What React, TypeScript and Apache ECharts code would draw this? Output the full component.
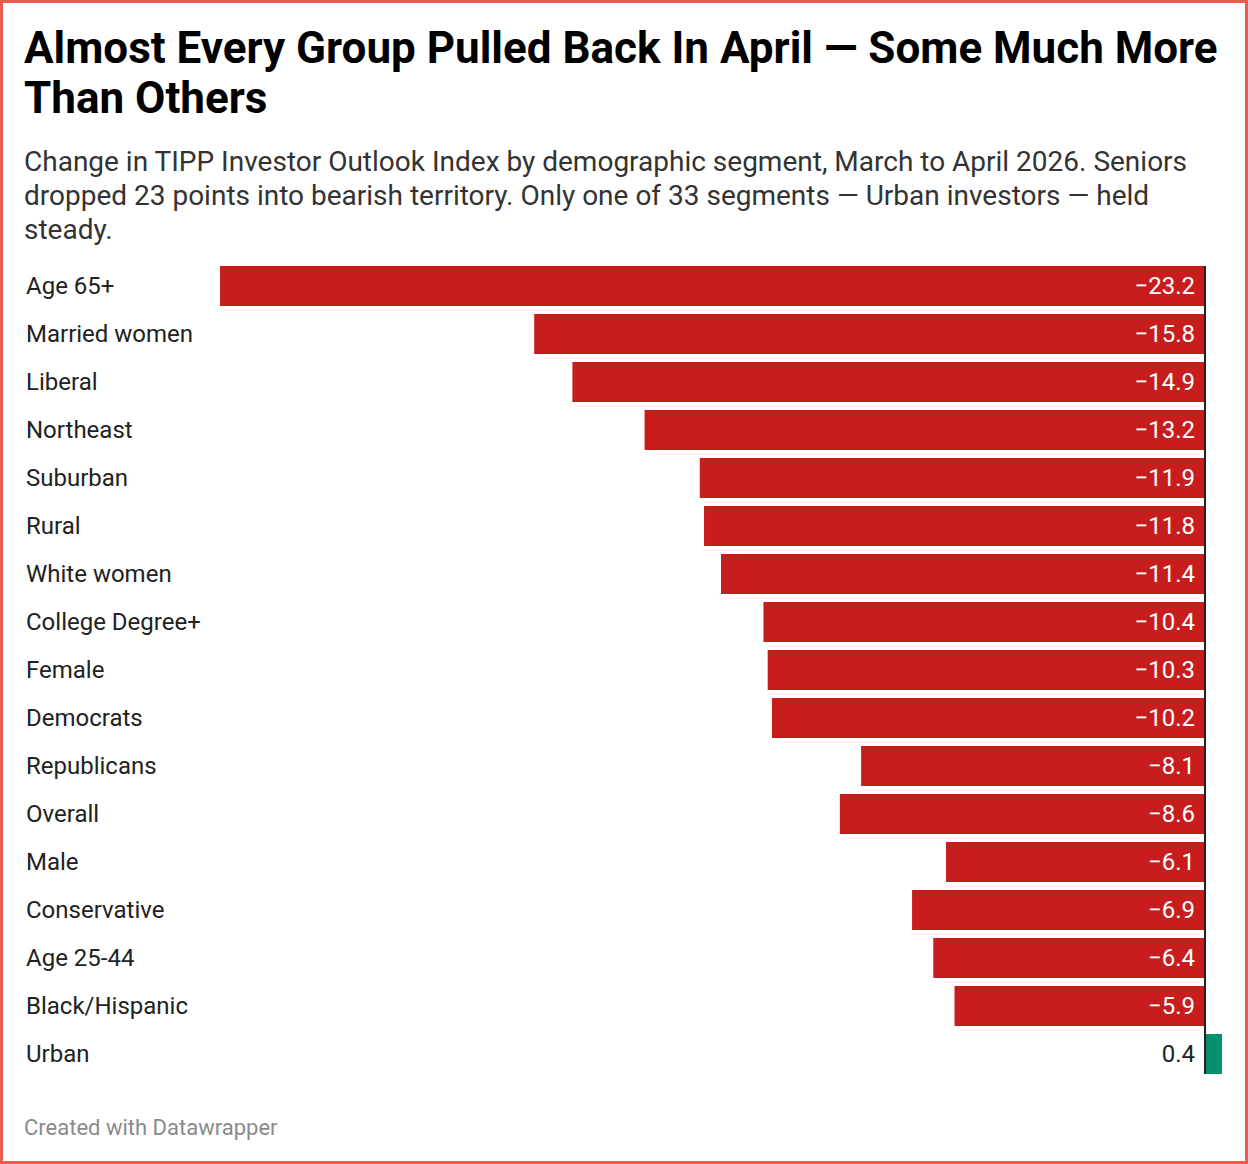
import React, { useEffect, useRef } from "react";
import * as echarts from "echarts";

const categories = [
  "Age 65+",
  "Married women",
  "Liberal",
  "Northeast",
  "Suburban",
  "Rural",
  "White women",
  "College Degree+",
  "Female",
  "Democrats",
  "Republicans",
  "Overall",
  "Male",
  "Conservative",
  "Age 25-44",
  "Black/Hispanic",
  "Urban",
];

const changes = [
  -23.2, -15.8, -14.9, -13.2, -11.9, -11.8, -11.4, -10.4, -10.3, -10.2, -8.1,
  -8.6, -6.1, -6.9, -6.4, -5.9, 0.4,
];

const TITLE = "Almost Every Group Pulled Back In April — Some Much More\nThan Others";
const SUBTITLE =
  "Change in TIPP Investor Outlook Index by demographic segment, March to April 2026. Seniors\ndropped 23 points into bearish territory. Only one of 33 segments — Urban investors — held\nsteady.";
const FOOTER = "Created with Datawrapper";

const RED = "#c71e1d";
const GREEN = "#07906f";
const FONT = "Roboto, 'Noto Sans', sans-serif";
const BAR_W = 40;

export default function App() {
  const ref = useRef<HTMLDivElement>(null);

  useEffect(() => {
    document.body.style.margin = "0";
    if (!ref.current) return;
    const chart = echarts.init(ref.current, undefined, { renderer: "svg" });
    const fmt = (v: number) => (v < 0 ? "\u2212" + Math.abs(v).toFixed(1) : v.toFixed(1));

    chart.setOption({
      animation: false,
      backgroundColor: "#ffffff",
      textStyle: { fontFamily: FONT },
      grid: { left: 220, right: 26, top: 262, height: 816, containLabel: false },
      xAxis: {
        type: "value",
        min: -23.2,
        max: 0.4,
        show: false,
      },
      yAxis: {
        type: "category",
        data: categories,
        inverse: true,
        axisLine: { show: false, onZero: false },
        axisTick: { show: false },
        splitLine: { show: false },
        axisLabel: {
          align: "left",
          margin: 194,
          fontSize: 24,
          color: "#222222",
          fontFamily: FONT,
        },
      },
      series: [
        {
          type: "bar",
          barWidth: BAR_W,
          data: changes.map((v) => ({
            value: v,
            itemStyle: { color: v < 0 ? RED : GREEN },
            label: {
              show: true,
              position: v < 0 ? "insideRight" : "left",
              distance: 10,
              color: v < 0 ? "#ffffff" : "#222222",
              fontSize: 24,
              fontFamily: FONT,
              formatter: () => fmt(v),
            },
          })),
        },
        {
          type: "custom",
          z: 5,
          silent: true,
          data: [[0, categories[0]]],
          renderItem: (params: any, api: any) => {
            const top = api.coord([0, 0]);
            const bot = api.coord([0, categories.length - 1]);
            return {
              type: "line",
              shape: { x1: top[0], y1: top[1] - BAR_W / 2, x2: bot[0], y2: bot[1] + BAR_W / 2 },
              style: { stroke: "#222222", lineWidth: 2 },
            };
          },
        },
      ],
      graphic: [
        {
          type: "rect",
          shape: { x: 1.5, y: 1.5, width: 1245, height: 1161 },
          style: { fill: "none", stroke: "#eb5b4f", lineWidth: 3 },
          z: 10,
        },
        {
          type: "text",
          x: 24,
          y: 23,
          style: {
            text: TITLE,
            fontSize: 44,
            fontWeight: "bold",
            lineHeight: 50,
            fill: "#000000",
            fontFamily: FONT,
            verticalAlign: "top",
          },
        },
        {
          type: "text",
          x: 24,
          y: 144,
          style: {
            text: SUBTITLE,
            fontSize: 28,
            lineHeight: 34,
            fill: "#333333",
            fontFamily: FONT,
            verticalAlign: "top",
          },
        },
        {
          type: "text",
          x: 24,
          y: 1127,
          style: {
            text: FOOTER,
            fontSize: 22,
            fill: "#8a8a8a",
            fontFamily: FONT,
            verticalAlign: "middle",
          },
        },
      ],
    });
    return () => chart.dispose();
  }, []);

  return <div ref={ref} style={{ width: 1248, height: 1164 }} />;
}
